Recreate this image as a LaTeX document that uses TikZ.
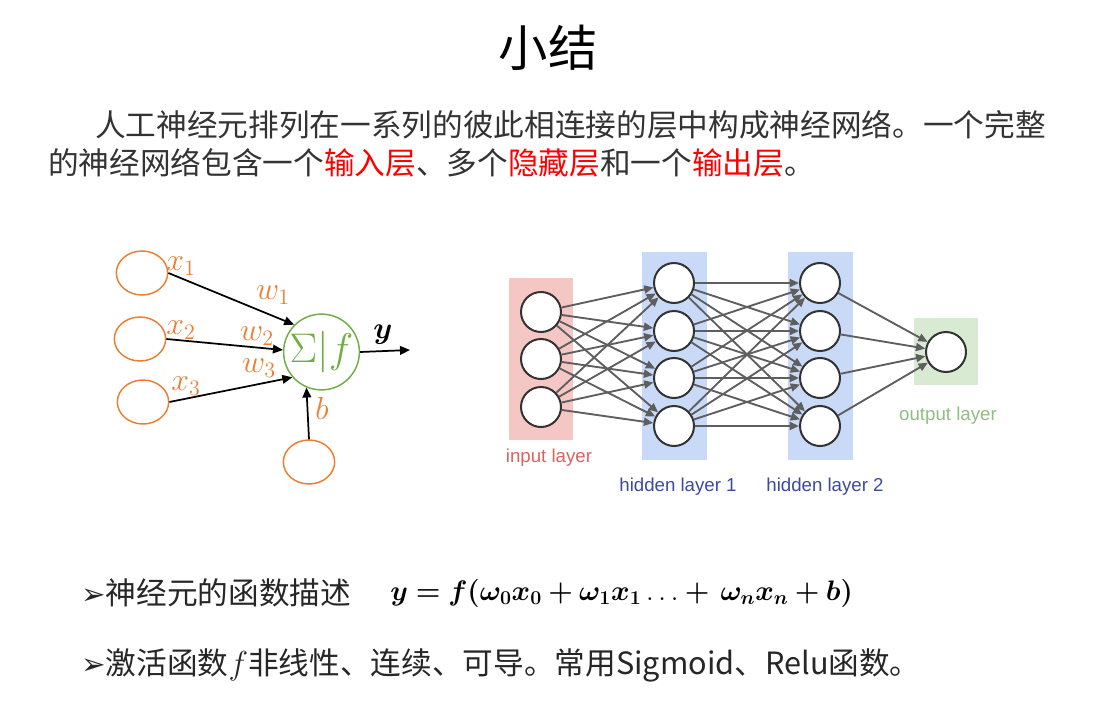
\documentclass[tikz,border=0pt]{standalone}
\usepackage{amsmath,bm}
\usepackage{fontspec}
\usetikzlibrary{arrows.meta,shapes.geometric}
\newfontfamily\cjk{Noto Sans CJK SC}
\newfontfamily\dejavu{DejaVu Sans}
\newfontfamily\arial{Liberation Sans}
\definecolor{txt}{HTML}{333333}
\definecolor{org}{HTML}{ED7D31}
\definecolor{grn}{HTML}{70AD47}
\definecolor{pinkbg}{HTML}{F4C7C5}
\definecolor{bluebg}{HTML}{C9DAF8}
\definecolor{greenbg}{HTML}{D9EAD3}
\definecolor{redlab}{HTML}{D9645F}
\definecolor{bluelab}{HTML}{3D4A9B}
\definecolor{greenlab}{HTML}{8FBF7F}
\definecolor{edgegray}{HTML}{5E5E5E}
\begin{document}
\begin{tikzpicture}[x=0.75pt,y=-0.75pt,
  inp/.style={ellipse,draw=org,line width=1.1pt,minimum width=38.5pt,minimum height=33pt,inner sep=0},
  sumn/.style={circle,draw=grn,line width=1.1pt,minimum size=50pt,inner sep=0,text=grn,font=\fontsize{24}{26}\selectfont},
  warr/.style={draw=black,line width=1.3pt,-{Triangle[length=7.5pt,width=6.5pt]}},
  lab/.style={text=org,font=\fontsize{20}{22}\selectfont,inner sep=0},
  nn/.style={circle,draw=black!80,line width=1.5pt,fill=white,minimum size=30pt,inner sep=0},
  edge/.style={draw=edgegray,line width=1.4pt,-{Triangle[length=7pt,width=6pt]}},
  nlab/.style={font=\arial\fontsize{14}{16}\selectfont,inner sep=0},
  para/.style={anchor=west,inner sep=0,text=txt,font=\cjk\fontsize{23}{26}\selectfont}
]
\useasboundingbox (0,0) rectangle (1110,717);

% title
\node[font=\cjk\fontsize{37}{40}\selectfont,inner sep=0] (title) at (548,48) {小结};

% paragraph
\node[para] (p1) at (95,125) {人工神经元排列在一系列的彼此相连接的层中构成神经网络。一个完整};
\node[para] (p2) at (48,163) {的神经网络包含一个\textcolor{red}{输入层}、多个\textcolor{red}{隐藏层}和一个\textcolor{red}{输出层}。};

% neuron
\node[inp] (i1) at (142,273) {};
\node[inp] (i2) at (140,339) {};
\node[inp] (i3) at (143,402) {};
\node[inp] (ib) at (309,462) {};
\node[sumn] (g) at (321.5,352) {\scalebox{1.25}{$\Sigma|f$}};
\coordinate (yout) at (410,350);
\draw[warr] (i1.east) -- (g.135);
\draw[warr] (i2.east) -- (g.177);
\draw[warr] (i3.east) -- (g.221);
\draw[warr] (ib.north) -- (g.247);
\draw[warr] (g.east) -- (yout);
\node[lab] (lx1) at (181,266) {\scalebox{1.15}{$x_1$}};
\node[lab] (lw1) at (273,295) {\scalebox{1.15}{$w_1$}};
\node[lab] (lx2) at (181,330) {\scalebox{1.15}{$x_2$}};
\node[lab] (lw2) at (257,336) {\scalebox{1.15}{$w_2$}};
\node[lab] (lw3) at (259,368) {\scalebox{1.15}{$w_3$}};
\node[lab] (lx3) at (186,386) {\scalebox{1.15}{$x_3$}};
\node[lab] (lb) at (322,408) {\scalebox{1.15}{$b$}};
\node[inner sep=0,font=\fontsize{20}{22}\selectfont] (ly) at (383,335) {\scalebox{1.1}{$\bm{y}$}};

% network backgrounds
\fill[pinkbg] (509,278) rectangle (573,440);
\fill[bluebg] (642,252) rectangle (707,460);
\fill[bluebg] (788,252) rectangle (853,460);
\fill[greenbg] (914,318) rectangle (978,385);

\foreach \i/\y in {1/312,2/359,3/407} \node[nn] (I\i) at (541,\y) {};
\foreach \i/\y in {1/283,2/331,3/378,4/426} {
  \node[nn] (H\i) at (674,\y) {};
  \node[nn] (K\i) at (820,\y) {};
}
\node[nn] (O) at (946,352) {};

\foreach \a in {1,2,3} \foreach \b in {1,2,3,4} \draw[edge] (I\a) -- (H\b);
\foreach \a in {1,2,3,4} \foreach \b in {1,2,3,4} \draw[edge] (H\a) -- (K\b);
\foreach \a in {1,2,3,4} \draw[edge] (K\a) -- (O);

\node[nlab,text=redlab] (ilab) at (549,458) {input layer};
\node[nlab,text=bluelab] (h1lab) at (678,487) {hidden layer 1};
\node[nlab,text=bluelab] (h2lab) at (825,487) {hidden layer 2};
\node[nlab,text=greenlab] (olab) at (948,416) {output layer};

% bottom lines
\node[para,text=black!85] (l1) at (81,593) {{\dejavu\fontsize{22}{24}\selectfont ➢}神经元的函数描述};
\node[anchor=west,inner sep=0,font=\fontsize{22}{26}\selectfont] (fm) at (390,593)
  {\scalebox{1.02}{$\bm{y = f(\omega_0 x_0 + \omega_1 x_1}\ldots\bm{+\,\omega_n x_n + b)}$}};
\node[para,text=black!85] (l2) at (81,665) {{\dejavu\fontsize{22}{24}\selectfont ➢}激活函数$f$非线性、连续、可导。常用Sigmoid、Relu函数。};
\end{tikzpicture}
\end{document}
